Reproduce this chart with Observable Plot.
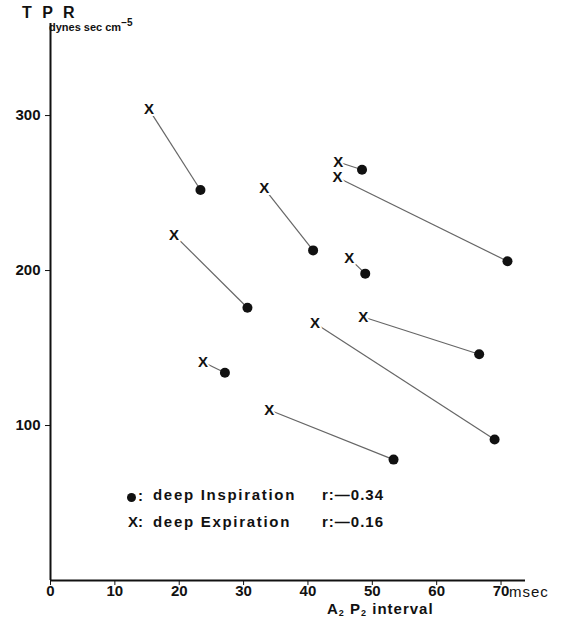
<!DOCTYPE html>
<html>
<head>
<meta charset="utf-8">
<script src="https://cdn.jsdelivr.net/npm/d3@7"></script>
<script src="https://cdn.jsdelivr.net/npm/@observablehq/plot@0.6"></script>
<style>
  html, body { margin: 0; padding: 0; background: #fff; }
  #wrap { position: relative; width: 562px; height: 618px; font-family: "Liberation Sans", Arial, sans-serif; color: #111; }
  #wrap svg { position: absolute; left: 0; top: 0; }
  #wrap svg text { font-weight: bold; }
  .ov { position: absolute; white-space: nowrap; font-weight: bold; line-height: 1; }
  .dot { display: inline-block; width: 9px; height: 9px; border-radius: 50%; background: #111; vertical-align: -1px; margin-right: 2px; }
  .sb { font-size: 9px; position: relative; top: 2px; }
</style>
</head>
<body>
<div id="wrap">
  <div class="ov" style="left:22px; top:5px; font-size:16px; letter-spacing:3px;">T P R</div>
  <div class="ov" style="left:49px; top:22px; font-size:11px;">dynes sec cm<span style="font-size:10px; position:relative; top:-5px;">−5</span></div>
  <div class="ov" style="left:509px; top:584px; font-size:15px; font-weight:normal; letter-spacing:1px;">msec</div>
  <div class="ov" style="left:327px; top:601px; font-size:15px; letter-spacing:1px;">A<span class="sb">2</span> P<span class="sb">2</span> interval</div>
  <div class="ov" style="left:127px; top:488px; font-size:15px;"><span class="dot"></span>:</div>
  <div class="ov" style="left:153px; top:487px; font-size:15px; letter-spacing:1.7px;">deep Inspiration</div>
  <div class="ov" style="left:322px; top:487px; font-size:15px; letter-spacing:1px;">r:—0.34</div>
  <div class="ov" style="left:128px; top:514px; font-size:15px;">X:</div>
  <div class="ov" style="left:153px; top:514px; font-size:15px; letter-spacing:1.7px;">deep Expiration</div>
  <div class="ov" style="left:322px; top:514px; font-size:15px; letter-spacing:1px;">r:—0.16</div>
</div>
<script>
// Data (A2P2 interval in msec, TPR in dynes sec cm^-5)
const expX  = [15.3, 33.2, 44.7, 44.6, 46.4, 19.2, 48.6, 41.1, 23.7, 34.0];
const expY  = [304, 253, 270, 260, 208, 223, 170, 166, 141, 110];
const inspX = [23.3, 40.8, 48.4, 71.0, 48.9, 30.6, 66.6, 69.0, 27.1, 53.3];
const inspY = [252, 213, 265, 206, 198, 176, 146, 91, 134, 78];
const xTicks = [0, 10, 20, 30, 40, 50, 60, 70];
const yTicks = [100, 200, 300];

const pairs = expX.map((_, i) => ({ex: expX[i], ey: expY[i], ix: inspX[i], iy: inspY[i]}));

const chart = Plot.plot({
  width: 562,
  height: 618,
  marginLeft: 50,
  marginRight: 37,
  marginTop: 23,
  marginBottom: 38,
  style: {fontFamily: "Liberation Sans, Arial, sans-serif", fontSize: "15px", fontWeight: "bold", color: "#111", background: "transparent"},
  x: {domain: [0, 73.8], ticks: xTicks, tickSize: 5, tickPadding: 0, label: null, tickFormat: d => String(d)},
  y: {domain: [0, 359.4], ticks: yTicks, tickSize: 5, tickPadding: 5, label: null, tickFormat: d => String(d)},
  marks: [
    Plot.ruleX([0], {stroke: "#111", strokeWidth: 2}),
    Plot.ruleY([0], {stroke: "#111", strokeWidth: 2}),
    Plot.link(pairs, {x1: "ex", y1: "ey", x2: "ix", y2: "iy", stroke: "#666", strokeWidth: 1.2}),
    Plot.dot(pairs, {x: "ix", y: "iy", r: 5, fill: "#111", stroke: "none"}),
    Plot.text(pairs, {x: "ex", y: "ey", text: () => "X", fontSize: 15, fontWeight: "bold", fill: "#111",
      stroke: "white", strokeWidth: 4, fontFamily: "Liberation Sans Narrow, Liberation Sans, sans-serif"})
  ]
});
document.getElementById("wrap").prepend(chart);
</script>
</body>
</html>
